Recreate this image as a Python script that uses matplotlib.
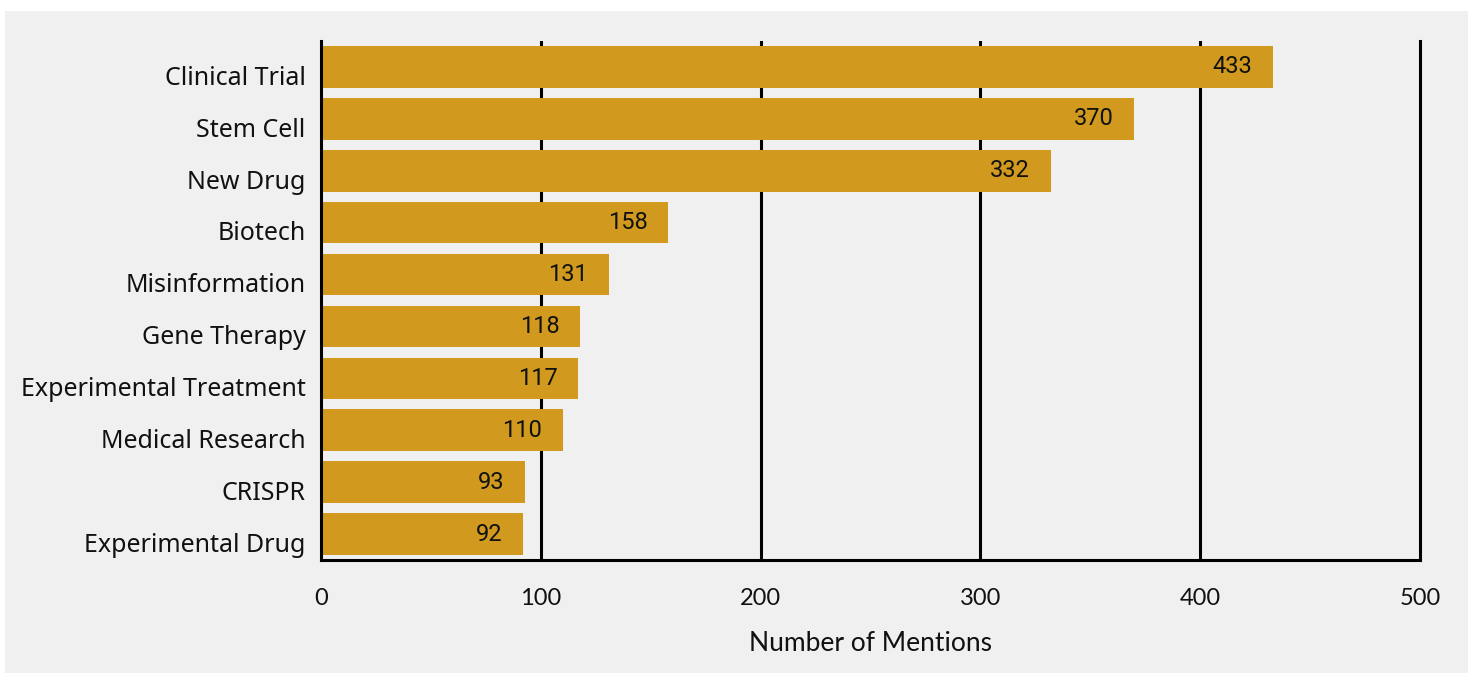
import matplotlib.pyplot as plt
from matplotlib.patches import Rectangle
from matplotlib.transforms import ScaledTranslation

terms = ['Clinical Trial', 'Stem Cell', 'New Drug', 'Biotech', 'Misinformation',
         'Gene Therapy', 'Experimental Treatment', 'Medical Research', 'CRISPR',
         'Experimental Drug']
mentions = [433, 370, 332, 158, 131, 118, 117, 110, 93, 92]
x_ticks = [0, 100, 200, 300, 400, 500]

bar_color = '#d19a1e'
panel = '#eff0ef'
ink = '#111111'

fig = plt.figure(figsize=(14.73, 6.73), dpi=100, facecolor='white')
fig.patches.append(Rectangle((5 / 1473, 0), 1463 / 1473, 662 / 673,
                             transform=fig.transFigure, facecolor=panel,
                             edgecolor='none', zorder=-10))

ax = fig.add_axes([321 / 1473, 1 - 560 / 673, 1099 / 1473, 519 / 673])
ax.set_facecolor(panel)

pos = range(len(terms))
ax.barh(pos, mentions, height=0.8, color=bar_color, zorder=2)
ax.set_ylim(9.5, -0.5)
ax.set_xlim(0, 500)

# value labels sit just inside the end of each bar
for y, v in zip(pos, mentions):
    ax.annotate(str(v), (v, y), xytext=(-15, 0), textcoords='offset points',
                ha='right', va='center', fontsize=17, family='Roboto',
                color=ink, zorder=3)

for x in x_ticks[1:-1]:
    ax.axvline(x, color='black', lw=2.2, zorder=1)

ax.spines['top'].set_visible(False)
for s in ['left', 'right', 'bottom']:
    ax.spines[s].set_linewidth(2.2)
    ax.spines[s].set_color('black')

ax.set_yticks(list(pos))
ax.set_yticklabels(terms, fontsize=18, family='Noto Sans', color=ink)
ax.set_xticks(x_ticks)
ax.set_xticklabels([str(t) for t in x_ticks], fontsize=17, family='Lato',
                   color=ink)
ax.tick_params(axis='y', length=0, pad=11)
ax.tick_params(axis='x', length=0, pad=20)
ax.set_xlabel('Number of Mentions', fontsize=19, family='Lato', color=ink,
              labelpad=16)

shift = ScaledTranslation(0, -6 / 72, fig.dpi_scale_trans)
for lab in ax.get_yticklabels():
    lab.set_transform(lab.get_transform() + shift)

fig.savefig('out.png', dpi=100, facecolor='white')
